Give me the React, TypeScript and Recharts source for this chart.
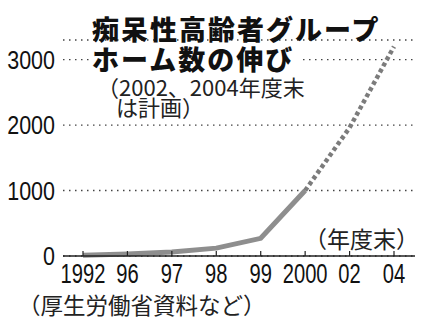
import { CartesianGrid, Line, LineChart, XAxis, YAxis } from 'recharts';

const years = ['1992', '96', '97', '98', '99', '2000', '02', '04'];
const actualCount = [10, 30, 60, 120, 270, 1000, null, null];
const plannedCount = [null, null, null, null, null, 1000, 1960, 3200];
const yTicks = [0, 1000, 2000, 3000];

const data = years.map((year, i) => ({
  year,
  actual: actualCount[i],
  plan: plannedCount[i],
}));

const numFont = '"Liberation Sans", Arial, sans-serif';
const jpFont = '"Noto Sans CJK JP", sans-serif';

function XTick(props: any) {
  const { x, y, payload } = props;
  return (
    <g>
      <line x1={x} y1={y} x2={x} y2={y - 5} stroke="#222" strokeWidth={1.2} />
      <text
        transform={`translate(${x},${y + 27}) scale(0.72,1)`}
        textAnchor="middle"
        fontFamily={numFont}
        fontSize={28}
        fill="#111"
      >
        {payload.value}
      </text>
    </g>
  );
}

function YTick(props: any) {
  const { x, y, payload } = props;
  return (
    <text
      transform={`translate(${x},${y + 9}) scale(0.86,1)`}
      textAnchor="end"
      fontFamily={numFont}
      fontSize={25}
      fill="#111"
    >
      {payload.value}
    </text>
  );
}

export default function App() {
  return (
    <div style={{ position: 'absolute', left: 0, top: 0, width: 425, height: 324, background: '#fff' }}>
      <LineChart width={425} height={324} data={data} margin={{ top: 40, right: 10, bottom: 38, left: 0 }}>
        <CartesianGrid
          vertical={false}
          stroke="#444"
          strokeWidth={1.4}
          strokeDasharray="1.5 4.5"
        />
        <XAxis
          dataKey="year"
          padding={{ left: 20, right: 21 }}
          axisLine={{ stroke: '#222', strokeWidth: 1.6 }}
          tickLine={false}
          tickSize={0}
          tickMargin={0}
          height={30}
          interval={0}
          tick={<XTick />}
        />
        <YAxis
          domain={[0, 3300]}
          ticks={yTicks}
          axisLine={false}
          tickLine={false}
          tickSize={0}
          tickMargin={8}
          width={63}
          tick={<YTick />}
        />
        <Line
          dataKey="actual"
          type="linear"
          stroke="#8e8e8e"
          strokeWidth={5}
          dot={false}
          connectNulls={false}
          isAnimationActive={false}
        />
        <Line
          dataKey="plan"
          type="linear"
          stroke="#7c7c7c"
          strokeWidth={4.5}
          strokeDasharray="4 3"
          dot={false}
          connectNulls={false}
          isAnimationActive={false}
        />
      </LineChart>
      <svg
        width={425}
        height={324}
        style={{ position: 'absolute', left: 0, top: 0, pointerEvents: 'none' }}
      >
        <rect x={89} y={47} width={210} height={28} fill="#fff" />
        <text x={92} y={40} fontFamily={jpFont} fontWeight={900} fontSize={27} letterSpacing={2} fill="#111">
          痴呆性高齢者グループ
        </text>
        <text x={92} y={70} fontFamily={jpFont} fontWeight={900} fontSize={27} letterSpacing={2} fill="#111">
          ホーム数の伸び
        </text>
        <text x={97} y={96} fontFamily={jpFont} fontSize={22} fill="#222">
          （2002、2004年度末
        </text>
        <text x={116} y={116} fontFamily={jpFont} fontSize={22} fill="#222">
          は計画）
        </text>
        <text x={304} y={248} fontFamily={jpFont} fontSize={23} fill="#222">
          （年度末）
        </text>
        <text x={18} y={314} fontFamily={jpFont} fontSize={22.5} fill="#222">
          （厚生労働省資料など）
        </text>
      </svg>
    </div>
  );
}
